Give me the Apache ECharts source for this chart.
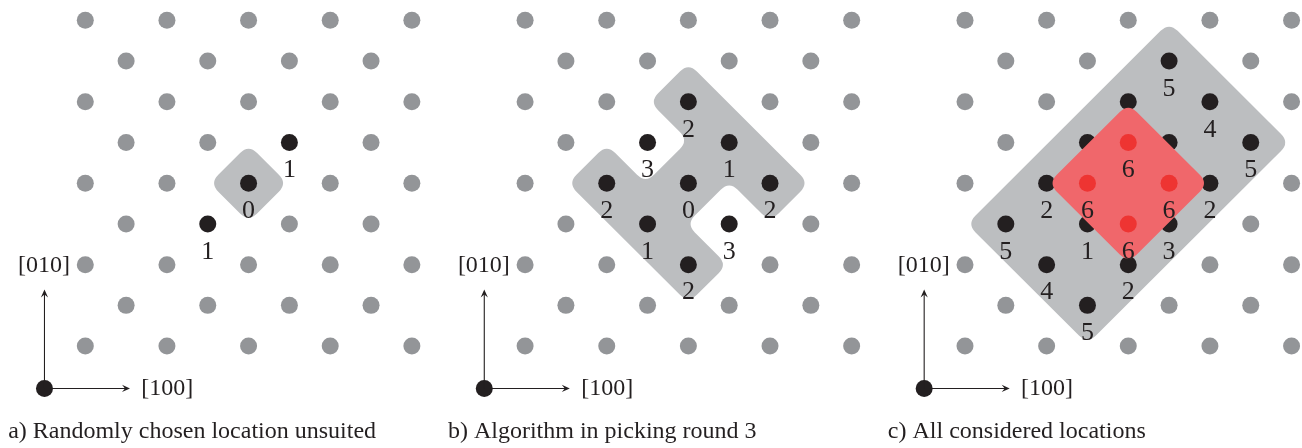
<!DOCTYPE html>
<html><head><meta charset="utf-8">
<script src="https://cdn.jsdelivr.net/npm/echarts@6/dist/echarts.min.js"></script>
<style>html,body{margin:0;padding:0;background:#fff}#c{width:1302px;height:448px}</style>
</head><body><div id="c"></div>
<script>
// ---------- data (lattice coordinates: [column, row]) ----------
const latticeRows = [0, 1, 2, 3, 4, 5, 6, 7, 8];
const evenRowCols = [0, 2, 4, 6, 8];
const oddRowCols = [1, 3, 5, 7];

const captions = ['a) Randomly chosen location unsuited', 'b) Algorithm in picking round 3', 'c) All considered locations'];
const axisLabelX = '[100]';
const axisLabelY = '[010]';

const panelA_black = [[4, 4], [5, 3], [3, 5]];
const panelA_labels = ['0', '1', '1'];

const panelB_black = [[4, 2], [3, 3], [5, 3], [2, 4], [4, 4], [6, 4], [3, 5], [5, 5], [4, 6]];
const panelB_labels = ['2', '3', '1', '2', '0', '2', '1', '3', '2'];

const panelC_black = [[5, 1], [4, 2], [6, 2], [3, 3], [5, 3], [7, 3], [2, 4], [4, 4], [6, 4], [1, 5], [3, 5], [5, 5], [2, 6], [4, 6], [3, 7]];
const panelC_labels = ['5', '', '4', '', '', '5', '2', '', '2', '5', '1', '3', '4', '2', '5'];
const panelC_red = [[4, 3], [3, 4], [5, 4], [4, 5]];
const panelC_redLabels = ['6', '6', '6', '6'];

// outlines of shaded regions
const panelA_region = [[4, 3.05], [4.95, 4], [4, 4.95], [3.05, 4]];
const panelB_region = [[4, 1.05], [6.95, 4], [6, 4.95], [5, 3.95], [3.95, 5], [4.95, 6], [4, 6.95], [1.05, 4], [2, 3.05], [2.95, 4], [4, 2.95], [3.05, 2]];
const panelC_region = [[5, 0.05], [7.95, 3], [3, 7.95], [0.05, 5]];
const panelC_redRegion = [[4, 2.04], [5.96, 4], [4, 5.96], [2.04, 4]];

// crystal direction arrows
const axisOrigin = [-1, 9.04];
const axisTipX = [1.095, 9.04];
const axisTipY = [-1, 6.61];
const axisLabelXPos = [2.01, 9.05];
const axisLabelYPos = [-1.01, 6.02];
const captionPos = [-1.89, 10.11];

// ---------- layout / style ----------
const STEP_X = 40.82, STEP_Y = 40.75, ROW0_Y = 20;
const X_MIN = -2, X_MAX = 8.2;
const panelOriginsX = [85.3, 525.1, 965.0];
const C_DOT = '#939598', C_BLACK = '#231f20', C_SHADE = '#bcbec0', C_RED = '#f0676b', C_REDDOT = '#ee3432';
const FONT = 'Liberation Serif';

const panels = [
  { black: panelA_black, labels: panelA_labels, regions: [panelA_region] },
  { black: panelB_black, labels: panelB_labels, regions: [panelB_region] },
  { black: panelC_black, labels: panelC_labels, regions: [panelC_region], red: panelC_red, redLabels: panelC_redLabels, redRegions: [panelC_redRegion] }
];

function latticeSites() {
  const out = [];
  latticeRows.forEach(r => (r % 2 === 0 ? evenRowCols : oddRowCols).forEach(c => out.push([c, r])));
  return out;
}

function roundedPath(pts, r) {
  const n = pts.length;
  let d = '';
  for (let i = 0; i < n; i++) {
    const v = pts[i], p = pts[(i + n - 1) % n], q = pts[(i + 1) % n];
    const lp = Math.hypot(p[0] - v[0], p[1] - v[1]), lq = Math.hypot(q[0] - v[0], q[1] - v[1]);
    const rr = Math.min(r, lp * 0.45, lq * 0.45);
    const a = [v[0] + (p[0] - v[0]) / lp * rr, v[1] + (p[1] - v[1]) / lp * rr];
    const b = [v[0] + (q[0] - v[0]) / lq * rr, v[1] + (q[1] - v[1]) / lq * rr];
    d += (i === 0 ? 'M' : 'L') + a[0].toFixed(2) + ' ' + a[1].toFixed(2) +
      'Q' + v[0].toFixed(2) + ' ' + v[1].toFixed(2) + ' ' + b[0].toFixed(2) + ' ' + b[1].toFixed(2);
  }
  return d + 'Z';
}

function arrowHead(tip, from) {
  const dx = tip[0] - from[0], dy = tip[1] - from[1], L = Math.hypot(dx, dy);
  const ux = dx / L, uy = dy / L, px = -uy, py = ux;
  const len = 8, w = 3.6;
  return [tip,
    [tip[0] - ux * len + px * w, tip[1] - uy * len + py * w],
    [tip[0] - ux * len * 0.62, tip[1] - uy * len * 0.62],
    [tip[0] - ux * len - px * w, tip[1] - uy * len - py * w]];
}

const grids = [], xAxes = [], yAxes = [], series = [];
const labelStyle = { show: true, position: 'inside', offset: [0, 28], formatter: '{b}', color: C_BLACK, fontFamily: FONT, fontSize: 26, textBorderWidth: 0 };

panels.forEach((pn, i) => {
  const ox = panelOriginsX[i];
  grids.push({ left: ox + X_MIN * STEP_X, top: ROW0_Y - 0.5 * STEP_Y, width: (X_MAX - X_MIN) * STEP_X, height: 11 * STEP_Y });
  xAxes.push({ type: 'value', gridIndex: i, min: X_MIN, max: X_MAX, show: false });
  yAxes.push({ type: 'value', gridIndex: i, min: -0.5, max: 10.5, inverse: true, show: false });

  // shaded region
  series.push({
    type: 'custom', xAxisIndex: i, yAxisIndex: i, z: 1, silent: true, clip: false,
    data: pn.regions.map(p => p[0]),
    renderItem: (params, api) => {
      const pts = pn.regions[params.dataIndex].map(v => api.coord(v));
      return { type: 'path', shape: { pathData: roundedPath(pts, 12) }, style: { fill: C_SHADE } };
    }
  });

  // grey lattice sites
  const blackKey = new Set(pn.black.map(p => p.join(',')));
  series.push({
    type: 'scatter', xAxisIndex: i, yAxisIndex: i, z: 2, silent: true, clip: false,
    symbolSize: 17, itemStyle: { color: C_DOT, opacity: 1 }, emphasis: { disabled: true },
    data: latticeSites().filter(p => !blackKey.has(p.join(',')))
  });

  // black sites + origin
  series.push({
    type: 'scatter', xAxisIndex: i, yAxisIndex: i, z: 3, silent: true, clip: false,
    symbolSize: 17, itemStyle: { color: C_BLACK, opacity: 1 }, emphasis: { disabled: true },
    label: labelStyle,
    data: pn.black.map((p, k) => ({ name: pn.labels[k], value: p })).concat([{ name: '', value: axisOrigin }])
  });

  if (pn.red) {
    series.push({
      type: 'custom', xAxisIndex: i, yAxisIndex: i, z: 4, silent: true, clip: false,
      data: pn.redRegions.map(p => p[0]),
      renderItem: (params, api) => {
        const pts = pn.redRegions[params.dataIndex].map(v => api.coord(v));
        return { type: 'path', shape: { pathData: roundedPath(pts, 12) }, style: { fill: C_RED } };
      }
    });
    series.push({
      type: 'scatter', xAxisIndex: i, yAxisIndex: i, z: 5, silent: true, clip: false,
      symbolSize: 17, itemStyle: { color: C_REDDOT, opacity: 1 }, emphasis: { disabled: true },
      label: labelStyle,
      data: pn.red.map((p, k) => ({ name: pn.redLabels[k], value: p }))
    });
  }

  // arrows and texts
  series.push({
    type: 'custom', xAxisIndex: i, yAxisIndex: i, z: 6, silent: true, clip: false,
    data: [axisOrigin],
    renderItem: (params, api) => {
      const o = api.coord(axisOrigin), tx = api.coord(axisTipX), ty = api.coord(axisTipY);
      const lx = api.coord(axisLabelXPos), ly = api.coord(axisLabelYPos), cp = api.coord(captionPos);
      const ln = (a, b) => ({ type: 'line', shape: { x1: a[0], y1: a[1], x2: b[0], y2: b[1] }, style: { stroke: C_BLACK, lineWidth: 1.1 } });
      const txt = (s, p, align) => ({ type: 'text', style: { text: s, x: p[0], y: p[1], fill: C_BLACK, font: '24px "' + FONT + '"', align: align, verticalAlign: 'middle', textAlign: align, textVerticalAlign: 'middle' } });
      return {
        type: 'group', children: [
          ln(o, [tx[0] - 4, tx[1]]), ln(o, [ty[0], ty[1] + 4]),
          { type: 'polygon', shape: { points: arrowHead(tx, o) }, style: { fill: C_BLACK } },
          { type: 'polygon', shape: { points: arrowHead(ty, o) }, style: { fill: C_BLACK } },
          txt(axisLabelX, lx, 'center'), txt(axisLabelY, ly, 'center'), txt(captions[i], cp, 'left')
        ]
      };
    }
  });
});

const chart = echarts.init(document.getElementById('c'), null, { renderer: 'canvas' });
chart.setOption({ animation: false, backgroundColor: '#ffffff', grid: grids, xAxis: xAxes, yAxis: yAxes, series: series });
</script>
</body></html>
